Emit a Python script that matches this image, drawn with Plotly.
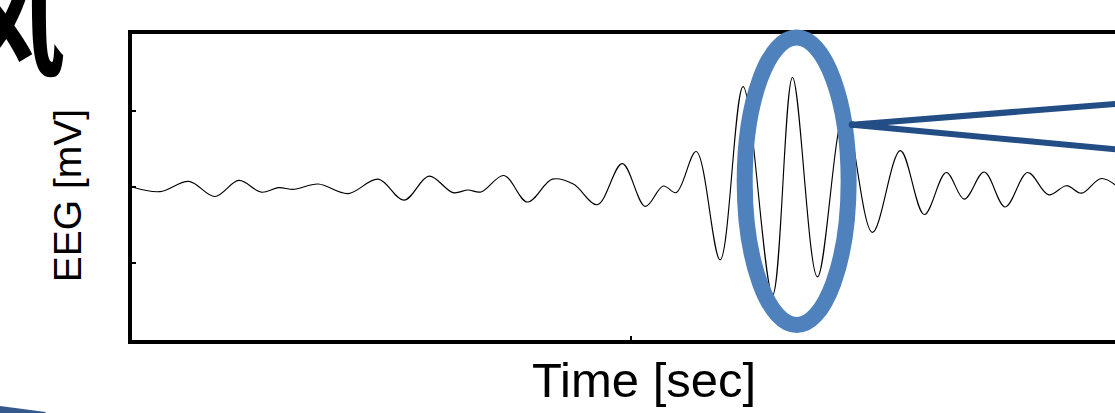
import plotly.graph_objects as go

# ---- data ----
time_sec = [0.000, 0.056, 0.114, 0.166, 0.214, 0.259, 0.293, 0.325, 0.373, 0.433,
            0.493, 0.545, 0.595, 0.643, 0.673, 0.699, 0.745, 0.792, 0.842, 0.884,
            0.932, 0.982, 1.028, 1.064, 1.090, 1.130, 1.178, 1.224, 1.283, 1.323,
            1.373, 1.427, 1.483, 1.539, 1.587, 1.631, 1.667, 1.707, 1.749, 1.794,
            1.836, 1.872, 1.902, 1.942, 1.986]
eeg_mv = [0.000, -0.061, 0.074, -0.125, 0.086, -0.068, -0.009, -0.030, 0.039, -0.086,
          0.103, -0.172, 0.142, -0.074, -0.039, -0.065, 0.151, -0.197, 0.103, 0.039,
          -0.232, 0.306, -0.254, 0.013, -0.074, 0.465, -0.955, 1.316, -1.419, 1.436,
          -1.178, 0.968, -0.594, 0.477, -0.361, 0.190, -0.159, 0.197, -0.262, 0.190,
          -0.103, 0.017, -0.081, 0.112, -0.065]
x_tick_vals = [1]
y_tick_vals = [-1, 0, 1]
x_title = "Time [sec]"
y_title = "EEG [mV]"
heading_glyph = "风"

# ---- layout geometry (pixels) ----
W, H = 1115, 413
L, R, T, B = 131.5, 1115, 34, 340.5


def px(x):
    return (x - L) / (R - L)


def py(y):
    return (B - y) / (B - T)


fig = go.Figure()
fig.add_trace(go.Scatter(
    x=time_sec, y=eeg_mv, mode="lines",
    line=dict(color="black", width=1.15, shape="spline", smoothing=1.0),
    hoverinfo="skip", showlegend=False))

fig.update_layout(
    width=W, height=H, autosize=False,
    margin=dict(l=L, r=W - R, t=T, b=H - B, pad=0),
    plot_bgcolor="white", paper_bgcolor="white",
    xaxis=dict(range=[0, (R - L) / 499.5], showline=True, linecolor="black", linewidth=4,
               mirror=True, ticks="inside", tickvals=x_tick_vals, ticklen=4, tickwidth=2,
               tickcolor="black", showticklabels=False, showgrid=False, zeroline=False),
    yaxis=dict(range=[-2.006, 2.006], showline=True, linecolor="black", linewidth=4,
               mirror=False, ticks="inside", tickvals=y_tick_vals, ticklen=4, tickwidth=2,
               tickcolor="black", showticklabels=False, showgrid=False, zeroline=False),
)

shapes = []
# highlight ellipse
shapes.append(dict(type="circle", xref="paper", yref="paper",
                   x0=px(744.5), x1=px(848.5), y0=py(325.5), y1=py(37.5),
                   line=dict(color="#4F81BD", width=16), layer="above"))
# callout lines
for yend in (104, 149.5):
    shapes.append(dict(type="line", xref="paper", yref="paper",
                       x0=px(852), y0=py(125), x1=px(1125), y1=py(125 + (yend - 125) * (1125 - 852) / (1115 - 852)),
                       line=dict(color="#224E85", width=6), layer="above"))
shapes.append(dict(type="circle", xref="paper", yref="paper",
                   x0=px(848.5), x1=px(855.5), y0=py(128.5), y1=py(121.5),
                   fillcolor="#224E85", line=dict(width=0), layer="above"))
# blue swoosh bottom-left
path = "M {},{} L {},{} L {},{} L {},{} Z".format(
    px(-5), py(406), px(45), py(412.5), px(45), py(420), px(-5), py(420))
shapes.append(dict(type="path", xref="paper", yref="paper", path=path,
                   fillcolor="#35598B", line=dict(width=0), layer="above"))
fig.update_layout(shapes=shapes)

annotations = [
    dict(text=x_title, xref="paper", yref="paper", x=px(643.5), y=py(381),
         xanchor="center", yanchor="middle", showarrow=False,
         font=dict(family="Liberation Sans, Arial", size=49, color="black")),
    dict(text=y_title, xref="paper", yref="paper", x=px(67), y=py(196),
         xanchor="center", yanchor="middle", textangle=-90, showarrow=False,
         font=dict(family="Liberation Sans, Arial", size=39, color="black")),
    dict(text=heading_glyph, xref="paper", yref="paper", x=px(66), y=py(16),
         xanchor="right", yanchor="middle", showarrow=False,
         font=dict(family="Noto Sans CJK SC", size=120, color="black", weight=700)),
]
fig.update_layout(annotations=annotations)

fig.write_html("out.html", config={"displayModeBar": False},
               post_script="document.body.style.margin='0';document.body.style.overflow='hidden';")
